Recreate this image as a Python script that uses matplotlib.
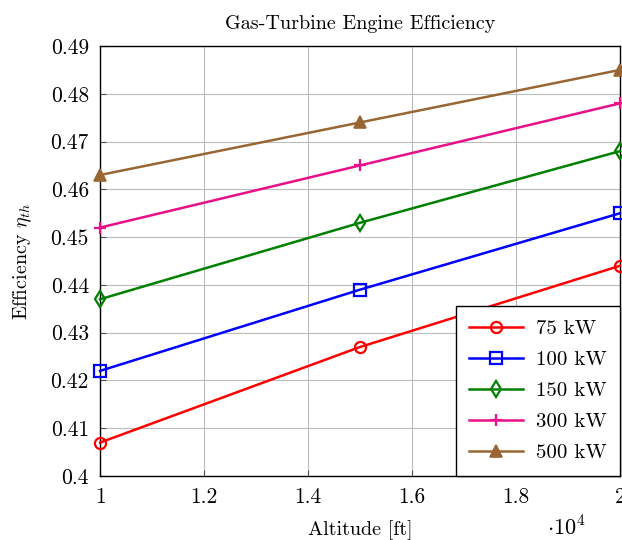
import numpy as np
import matplotlib.pyplot as plt

plt.rcParams['font.family'] = 'serif'
plt.rcParams['font.serif'] = ['cmr10', 'DejaVu Serif']
plt.rcParams['mathtext.fontset'] = 'cm'
plt.rcParams['axes.unicode_minus'] = False

# data
altitude = [10000, 15000, 20000]
eff_75 = [0.407, 0.427, 0.444]
eff_100 = [0.422, 0.439, 0.455]
eff_150 = [0.437, 0.453, 0.468]
eff_300 = [0.452, 0.465, 0.478]
eff_500 = [0.463, 0.474, 0.485]
labels = ['75 kW', '100 kW', '150 kW', '300 kW', '500 kW']

x_ticks = [10000, 12000, 14000, 16000, 18000, 20000]
x_ticklabels = ['1', '1.2', '1.4', '1.6', '1.8', '2']
y_ticks = [0.4, 0.41, 0.42, 0.43, 0.44, 0.45, 0.46, 0.47, 0.48, 0.49]
y_ticklabels = ['0.4', '0.41', '0.42', '0.43', '0.44', '0.45', '0.46', '0.47', '0.48', '0.49']

fig = plt.figure(figsize=(6.22, 5.4), dpi=100)
ax = fig.add_axes([0.1608, 0.1185, 0.836, 0.7963])

kw = dict(lw=1.8, clip_on=False, zorder=3)
ax.plot(altitude, eff_75, color='#ff0000', marker='o', mfc='none', mew=1.6, ms=8, label=labels[0], **kw)
ax.plot(altitude, eff_100, color='#0000ff', marker='s', mfc='none', mew=1.6, ms=8, label=labels[1], **kw)
ax.plot(altitude, eff_150, color='#008000', marker='d', mfc='none', mew=1.6, ms=8, label=labels[2], **kw)
ax.plot(altitude, eff_300, color='#e8108a', marker='+', mew=1.6, ms=9, label=labels[3], **kw)
ax.plot(altitude, eff_500, color='#996633', marker='^', mfc='#996633', mew=1.2, ms=8, label=labels[4], **kw)

ax.set_xlim(10000, 20000)
ax.set_ylim(0.4, 0.49)
ax.set_xticks(x_ticks)
ax.set_xticklabels(x_ticklabels)
ax.set_yticks(y_ticks)
ax.set_yticklabels(y_ticklabels)
ax.tick_params(labelsize=15.5, direction='in', length=4, color='#555555', pad=8)
ax.grid(color='#bbbbbb', lw=0.8)
for s in ax.spines.values():
    s.set_linewidth(1.0)

ax.set_title('Gas-Turbine Engine Efficiency', fontsize=14.5, pad=12)
ax.set_xlabel('Altitude [ft]', fontsize=14.5, labelpad=10)
ax.set_ylabel(r'Efficiency $\eta_{th}$', fontsize=14.5, labelpad=12)
fig.text(0.88, 0.0, r'$\cdot 10^4$', fontsize=16, ha='left', va='bottom')

leg = ax.legend(loc='lower right', fontsize=15, fancybox=False, framealpha=1,
                edgecolor='black', borderaxespad=0, handlelength=2.6,
                labelspacing=0.6, borderpad=0.65, handletextpad=0.6)
leg.get_frame().set_linewidth(1.0)
leg.set_zorder(5)

fig.savefig('out.png', dpi=100)
